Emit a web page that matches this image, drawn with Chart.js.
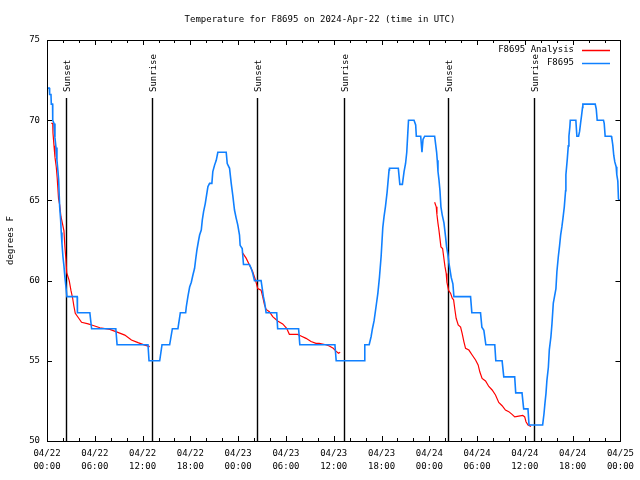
<!DOCTYPE html>
<html>
<head>
<meta charset="utf-8">
<script src="https://cdn.jsdelivr.net/npm/chart.js@4/dist/chart.umd.min.js"></script>
<style>
  body { margin: 0; background: #fff; }
</style>
</head>
<body>
<canvas id="temp" width="640" height="480"></canvas>
<script>
// hours since 04/22 00:00 UTC
const obsHours = [0, 0.29, 0.33, 0.5, 0.54, 0.7, 0.72, 0.88, 1.0, 1.13, 1.25, 1.38, 1.46, 1.59, 1.71, 1.79, 1.88, 2.0, 2.13, 2.25, 2.38, 2.5,
  3.79, 3.82, 5.38, 5.6, 8.64, 8.8, 12.68, 12.81, 14.15, 14.44, 15.4, 15.74, 16.44, 16.74, 17.41, 17.49, 17.69, 17.91, 18.12, 18.32,
  18.53, 18.66, 18.82, 19.03, 19.16, 19.37, 19.5, 19.66, 19.87, 20.2, 20.41, 20.7, 20.82, 21.04, 21.25, 21.45, 22.5, 22.63, 22.92,
  23.13, 23.33, 23.54, 23.75, 23.95, 24.17, 24.25, 24.51, 24.67, 25.42, 25.63, 25.83, 26.05, 26.88, 27.0, 27.17, 27.34, 27.51, 28.84,
  28.96, 31.59, 31.74, 36.15, 36.31, 39.82, 39.9, 40.45, 40.69, 40.86, 41.07, 41.32, 41.54, 41.74, 41.95, 42.16, 42.32, 42.49, 42.7,
  42.95, 43.0, 44.11, 44.3, 44.62, 44.83, 45.02, 45.17, 45.29, 45.39, 46.08, 46.29, 46.37, 46.92, 47.08, 47.21, 47.42, 48.67, 48.92,
  49.0, 49.09, 49.21, 49.34, 49.46, 49.62, 49.84, 50.05, 50.17, 50.34, 50.46, 50.59, 50.75, 50.96, 51.09, 53.18, 53.34, 54.43, 54.6,
  54.85, 55.1, 56.22, 56.35, 57.14, 57.35, 58.72, 58.85, 59.64, 59.85, 60.39, 60.52, 62.23, 62.4, 62.52, 62.65, 62.77, 62.95, 63.07,
  63.27, 63.4, 63.57, 63.9, 64.02, 64.2, 64.36, 64.49, 64.65, 64.78, 64.95, 65.11, 65.15, 65.33, 65.45, 65.53, 65.65, 65.7, 66.4,
  66.53, 66.74, 66.87, 66.99, 67.12, 67.24, 67.28, 68.83, 68.96, 69.08, 69.87, 69.96, 70.08, 70.84, 70.91, 71.04, 71.16, 71.29, 71.46,
  71.54, 71.67, 71.75, 71.87];
const obsTemps = [72, 72, 71.6, 71.6, 71, 71, 70, 69.8, 68.9, 68.3, 67.5, 66.8, 66.3, 64.6, 63.8, 63, 62.3, 61.5, 60.9, 60.2, 59.6, 59,
  59, 58, 58, 57, 57, 56, 56, 55, 55, 56, 56, 57, 57, 58, 58, 58.37, 59, 59.6, 59.9, 60.35,
  60.77, 61.3, 61.9, 62.5, 62.84, 63.15, 63.78, 64.3, 64.8, 65.85, 66.06, 66.06, 66.8, 67.2, 67.5, 68, 68, 67.3, 67,
  66.06, 65.3, 64.4, 63.9, 63.47, 62.84, 62.2, 62, 61, 61, 60.77, 60.45, 60, 60, 59.6, 59, 58.6, 58, 58,
  57, 57, 56, 56, 55, 55, 56, 56, 56.5, 57, 57.5, 58.4, 59.2, 60.2, 61.5, 63.3, 64, 64.6, 65.5,
  66.9, 67, 67, 66, 66, 66.8, 67.3, 68, 69.1, 70, 70, 69.7, 69, 69, 68, 68.8, 69, 69, 68,
  67.5, 66.8, 66.3, 65.6, 64.6, 64.1, 63.6, 62.7, 62.1, 61.6, 61.1, 60.7, 60.2, 59.8, 59, 59, 58, 58, 57.1,
  56.9, 56, 56, 55, 55, 54, 54, 53, 53, 52, 52, 51, 51, 51.7, 52.35, 52.97, 53.8, 54.6, 55.7,
  56.5, 57.3, 58.6, 59.5, 60.55, 61.5, 62.2, 62.84, 63.36, 63.88, 64.6, 65.6, 66.6, 67.6, 68.4, 69, 69.6, 70, 70,
  69, 69, 69.3, 69.8, 70.3, 70.8, 71, 71, 70.7, 70, 70, 69.8, 69, 69, 68.9, 68.45, 67.8, 67.4, 67.1,
  66.6, 66.2, 65.1, 65];

// analysis: three runs, null = break
const anaHours = [0.54, 0.72, 0.75, 0.88, 1.0, 1.16, 1.28, 1.45, 1.6, 1.75, 2.13, 2.25, 2.38, 2.47, 2.79, 3.0, 3.22, 3.38, 3.55, 3.92,
  4.34, 5.17, 5.8, 6.64, 7.89, 8.73, 9.77, 10.6, 11.43, 12.27, 12.9, null,
  24.51, 25.0, 25.42, 25.83, 26.17, 26.46, 26.88, 27.08, 27.3, 27.51, 27.92, 28.34, 28.96, 29.59, 30.09, 30.43, 31.47, 31.89, 32.52,
  33.15, 33.77, 34.18, 35.02, 35.44, 35.94, 36.28, 36.6, 36.81, null,
  48.67, 48.87, 48.96, 49.09, 49.21, 49.34, 49.46, 49.67, 49.8, 49.96, 50.12, 50.21, 50.42, 50.68, 50.88, 51.05, 51.21, 51.37, 51.63,
  51.93, 52.13, 52.34, 52.55, 52.97, 53.38, 53.81, 54.13, 54.35, 54.63, 55.06, 55.47, 55.89, 56.31, 56.72, 57.14, 57.56, 57.98, 58.39,
  58.73, 59.23, 59.73, 59.98, 60.14, 60.39, 60.77];
const anaTemps = [69.8, 69.8, 69.2, 68.4, 67.7, 67.1, 66.4, 65.1, 64.7, 64.0, 63.1, 62.1, 61.3, 60.5, 60.0, 59.4, 58.9, 58.4, 57.96, 57.7,
  57.4, 57.3, 57.2, 57.06, 56.96, 56.8, 56.6, 56.3, 56.13, 55.98, 55.88, null,
  61.76, 61.4, 60.97, 60.55, 60.04, 59.5, 59.4, 59.0, 58.5, 58.2, 58.06, 57.75, 57.48, 57.3, 57.03, 56.65, 56.65, 56.55, 56.4,
  56.2, 56.09, 56.09, 56.0, 55.92, 55.78, 55.6, 55.47, 55.53, null,
  64.88, 64.6, 64.1, 63.57, 63.15, 62.6, 62.1, 62.0, 61.5, 60.9, 60.45, 59.9, 59.4, 59.2, 58.9, 58.8, 58.2, 57.65, 57.23,
  57.1, 56.7, 56.2, 55.78, 55.67, 55.36, 55.05, 54.74, 54.3, 53.9, 53.74, 53.4, 53.18, 52.87, 52.4, 52.2, 51.93, 51.83, 51.66,
  51.5, 51.55, 51.6, 51.5, 51.2, 51.0, 50.9];

const sunHours = [2.38, 13.19, 26.33, 37.23, 50.38, 61.15];
const sunLabels = ['Sunset', 'Sunrise', 'Sunset', 'Sunrise', 'Sunset', 'Sunrise'];

const xTickLabels = [['04/22', '00:00'], ['04/22', '06:00'], ['04/22', '12:00'], ['04/22', '18:00'],
  ['04/23', '00:00'], ['04/23', '06:00'], ['04/23', '12:00'], ['04/23', '18:00'],
  ['04/24', '00:00'], ['04/24', '06:00'], ['04/24', '12:00'], ['04/24', '18:00'], ['04/25', '00:00']];

const FONT = "'DejaVu Sans Mono', 'Liberation Mono', monospace";
const BLUE = 'rgb(16,128,255)';
const RED = 'rgb(255,0,0)';

const pts = (xs, ys) => xs.map((h, i) => ({ x: h, y: ys[i] }));

// gnuplot-ish frame: border, inward ticks on all four sides, key
const framePlugin = {
  id: 'frame',
  afterDatasetsDraw(chart) {
    const { ctx, chartArea: a, scales: { x, y } } = chart;
    ctx.save();
    ctx.strokeStyle = '#000';
    ctx.lineWidth = 1;
    ctx.beginPath();
    for (let h = 0; h <= 72; h += 2) {
      const px = Math.round(x.getPixelForValue(h)) + 0.5;
      const len = h % 6 === 0 ? 5 : 3;
      ctx.moveTo(px, a.bottom); ctx.lineTo(px, a.bottom - len);
      ctx.moveTo(px, a.top); ctx.lineTo(px, a.top + len);
    }
    for (let v = 50; v <= 75; v += 5) {
      const py = Math.round(y.getPixelForValue(v)) + 0.5;
      ctx.moveTo(a.left, py); ctx.lineTo(a.left + 5, py);
      ctx.moveTo(a.right, py); ctx.lineTo(a.right - 5, py);
    }
    ctx.stroke();
    ctx.strokeRect(Math.round(a.left) + 0.5, Math.round(a.top) + 0.5,
      Math.round(a.right - a.left), Math.round(a.bottom - a.top));

    ctx.font = '9px ' + FONT;
    ctx.fillStyle = '#000';
    ctx.textAlign = 'right';
    ctx.textBaseline = 'middle';
    const keys = [[chart.data.datasets[1], 50], [chart.data.datasets[0], 63]];
    keys.forEach(([ds, ky]) => {
      ctx.fillText(ds.label, 574, ky);
      ctx.strokeStyle = ds.borderColor;
      ctx.lineWidth = 1.5;
      ctx.beginPath();
      ctx.moveTo(582, ky + 0.5); ctx.lineTo(610, ky + 0.5);
      ctx.stroke();
    });
    ctx.restore();
  }
};

const sunPlugin = {
  id: 'sun',
  beforeDatasetsDraw(chart) {
    const { ctx, chartArea: a, scales: { x } } = chart;
    ctx.save();
    ctx.strokeStyle = '#000';
    ctx.lineWidth = 1.4;
    ctx.font = '9px ' + FONT;
    ctx.fillStyle = '#000';
    sunHours.forEach((h, i) => {
      const px = Math.round(x.getPixelForValue(h)) + 0.5;
      ctx.beginPath();
      ctx.moveTo(px, a.top + 58);
      ctx.lineTo(px, a.bottom);
      ctx.stroke();
      ctx.save();
      ctx.translate(px + 1, a.top + 52);
      ctx.rotate(-Math.PI / 2);
      ctx.textAlign = 'left';
      ctx.textBaseline = 'middle';
      ctx.fillText(sunLabels[i], 0, 0);
      ctx.restore();
    });
    ctx.restore();
  }
};

new Chart(document.getElementById('temp').getContext('2d'), {
  type: 'line',
  data: {
    datasets: [{
      label: 'F8695',
      data: pts(obsHours, obsTemps),
      borderColor: BLUE,
      borderWidth: 1.6,
      pointRadius: 0,
      tension: 0,
      order: 0
    }, {
      label: 'F8695 Analysis',
      data: pts(anaHours, anaTemps),
      borderColor: RED,
      borderWidth: 1.2,
      pointRadius: 0,
      tension: 0,
      spanGaps: false,
      order: 1
    }]
  },
  options: {
    responsive: false,
    animation: false,
    devicePixelRatio: 1,
    layout: { padding: 0 },
    plugins: {
      legend: { display: false },
      tooltip: { enabled: false },
      title: {
        display: true,
        text: 'Temperature for F8695 on 2024-Apr-22 (time in UTC)',
        color: '#000',
        font: { family: FONT, size: 9, weight: 'normal' },
        padding: { top: 14, bottom: 15.2 }
      }
    },
    scales: {
      x: {
        type: 'linear',
        min: 0,
        max: 72,
        grid: { display: false, drawTicks: false },
        border: { display: false },
        afterFit: s => { s.height = 39; },
        ticks: {
          stepSize: 6,
          autoSkip: false,
          maxRotation: 0,
          padding: 6,
          color: '#000',
          font: { family: FONT, size: 9, lineHeight: 1.45 },
          callback: (v, i) => xTickLabels[i]
        }
      },
      y: {
        min: 50,
        max: 75,
        grid: { display: false, drawTicks: false },
        border: { display: false },
        afterFit: s => { s.width = 47; },
        title: {
          display: true,
          text: 'degrees F',
          color: '#000',
          font: { family: FONT, size: 9 },
          padding: { top: 5, bottom: 0 }
        },
        ticks: {
          stepSize: 5,
          padding: 7,
          color: '#000',
          font: { family: FONT, size: 9 }
        }
      },
      // empty right-hand margin so the plot ends at x=622
      yRight: {
        position: 'right',
        min: 50,
        max: 75,
        grid: { display: false, drawTicks: false },
        border: { display: false },
        ticks: { display: false },
        afterFit: s => { s.width = 18; }
      }
    }
  },
  plugins: [sunPlugin, framePlugin]
});
</script>
</body>
</html>
